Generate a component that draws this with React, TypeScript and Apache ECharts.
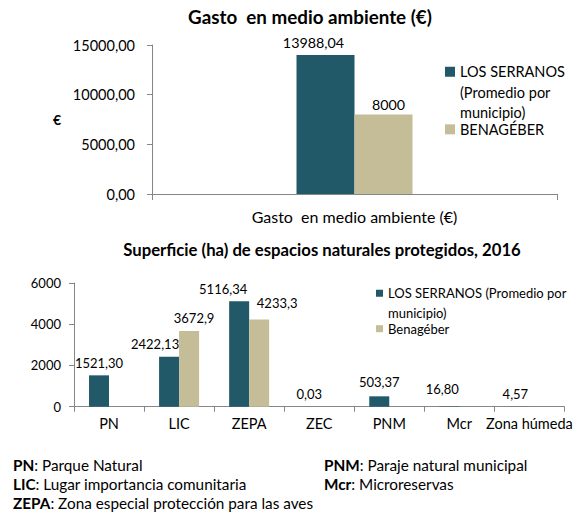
import React, { useEffect, useRef } from 'react';
import * as echarts from 'echarts';

// ---------- data ----------
const topCategories = ['Gasto  en medio ambiente (€)'];
const topSerranos = [13988.04];
const topBenageber = [8000];

const protCategories = ['PN', 'LIC', 'ZEPA', 'ZEC', 'PNM', 'Mcr', 'Zona húmeda'];
const protSerranos = [1521.3, 2422.13, 5116.34, 0.03, 503.37, 16.8, 4.57];
const protBenageber: (number | null)[] = [null, 3672.9, 4233.3, null, null, null, null];

const topYMax = 15000;
const topYInterval = 5000;
const protYMax = 6000;
const protYInterval = 2000;

const SERRANOS = 'LOS SERRANOS (Promedio por municipio)';
const BENA_TOP = 'BENAGÉBER';
const BENA_BOT = 'Benagéber';

const footLeft = [
  ['PN', ': Parque Natural'],
  ['LIC', ': Lugar importancia comunitaria'],
  ['ZEPA', ': Zona especial protección para las aves'],
];
const footRight = [
  ['PNM', ': Paraje natural municipal'],
  ['Mcr', ': Microreservas'],
];

// ---------- style ----------
const FONT = 'Lato, "Noto Sans", sans-serif';
const DARK = '#215968';
const TAN = '#C4BD97';
const AXIS = '#868686';
const TXT = '#000000';

// manual label shifts (as in the original chart)
const topSerranosShift = [[-12, 0]];
const topBenageberShift = [[5, 2.5]];
const protSerranosShift = [[0, 0], [-14, 0], [-16, 0], [0, 0], [0, -1.5], [-7, -4.5], [-4, 0]];
const protBenageberShift = [[0, 0], [5, 0], [18, -3.5], [0, 0], [0, 0], [0, 0], [0, 0]];

const fmt2 = (v: number) => v.toFixed(2).replace('.', ',');
const fmtRaw = (v: number) => String(v).replace('.', ',');

function items(vals: (number | null)[], shifts: number[][]) {
  return vals.map((v, i) => ({
    value: v === null ? '-' : v,
    label: { offset: shifts[i] },
  }));
}

// legend icon: a square at the top of a tall box, so that it sits on the first text line
const topIcon = (w: number, h: number) => `path://M0,0H${w}V${w}H0Z M0,${h - 0.01}H0.01V${h}H0Z`;

function buildOption(): any {
  const labelBase = { show: true, position: 'top', distance: 6, color: TXT, fontFamily: FONT };
  const footGraphics: any[] = [];
  const footRows = [465, 484, 503];
  const FS = 15.3;
  const pushFoot = (arr: string[][], x: number) =>
    arr.forEach(([b, n], i) =>
      footGraphics.push({
        type: 'text',
        x,
        y: footRows[i],
        style: {
          text: `{b|${b}}{n|${n}}`,
          verticalAlign: 'middle',
          rich: {
            b: { fontWeight: 'bold', fontSize: FS, fontFamily: FONT, fill: TXT },
            n: { fontSize: FS, fontFamily: FONT, fill: TXT },
          },
        },
      })
    );
  pushFoot(footLeft, 13);
  pushFoot(footRight, 324);

  return {
    animation: false,
    backgroundColor: '#ffffff',
    grid: [
      { left: 152, top: 45, width: 405, height: 149 },
      { left: 74, top: 283, width: 500.5, height: 123.7 },
    ],
    xAxis: [
      {
        gridIndex: 0,
        type: 'category',
        data: topCategories,
        axisLine: { lineStyle: { color: AXIS } },
        axisTick: { show: true, alignWithLabel: false, length: 6, lineStyle: { color: AXIS } },
        axisLabel: { color: TXT, fontFamily: FONT, fontSize: 16, margin: 14 },
      },
      {
        gridIndex: 1,
        type: 'category',
        data: protCategories,
        axisLine: { lineStyle: { color: AXIS } },
        axisTick: { show: true, alignWithLabel: false, interval: 0, length: 5, lineStyle: { color: AXIS } },
        axisLabel: { color: TXT, fontFamily: FONT, fontSize: 14.5, margin: 9, interval: 0 },
      },
    ],
    yAxis: [
      {
        gridIndex: 0,
        type: 'value',
        min: 0,
        max: topYMax,
        interval: topYInterval,
        axisLine: { show: true, lineStyle: { color: AXIS } },
        axisTick: { show: true, length: 5, lineStyle: { color: AXIS } },
        splitLine: { show: false },
        axisLabel: { color: TXT, fontFamily: FONT, fontSize: 14.5, margin: 17, formatter: (v: number) => fmt2(v) },
        name: '€',
        nameLocation: 'middle',
        nameRotate: 0,
        nameGap: 91,
        nameTextStyle: { color: TXT, fontFamily: FONT, fontSize: 14, fontWeight: 'bold' },
      },
      {
        gridIndex: 1,
        type: 'value',
        min: 0,
        max: protYMax,
        interval: protYInterval,
        axisLine: { show: true, lineStyle: { color: AXIS } },
        axisTick: { show: true, length: 5, lineStyle: { color: AXIS } },
        splitLine: { show: false },
        axisLabel: { color: TXT, fontFamily: FONT, fontSize: 13, margin: 13, formatter: (v: number) => String(v) },
      },
    ],
    legend: [
      {
        data: [SERRANOS],
        left: 445,
        top: 61.45,
        padding: 0,
        itemWidth: 10,
        itemHeight: 51,
        icon: topIcon(10, 51),
        selectedMode: false,
        formatter: () => 'LOS SERRANOS\n(Promedio por\nmunicipio)',
        textStyle: { color: TXT, fontFamily: FONT, fontSize: 14.5, lineHeight: 20.5 },
      },
      {
        data: [BENA_TOP],
        left: 445,
        top: 120.8,
        padding: 0,
        itemWidth: 10,
        itemHeight: 10,
        icon: 'rect',
        selectedMode: false,
        textStyle: { color: TXT, fontFamily: FONT, fontSize: 14.5, lineHeight: 17 },
      },
      {
        data: [SERRANOS],
        left: 376,
        top: 283.3,
        padding: 0,
        itemWidth: 7,
        itemHeight: 27,
        icon: topIcon(7, 27),
        selectedMode: false,
        formatter: () => 'LOS SERRANOS (Promedio por\nmunicipio)',
        textStyle: { color: TXT, fontFamily: FONT, fontSize: 13, lineHeight: 20 },
      },
      {
        data: [BENA_BOT],
        left: 376,
        top: 321.2,
        padding: 0,
        itemWidth: 7,
        itemHeight: 7,
        icon: 'rect',
        selectedMode: false,
        textStyle: { color: TXT, fontFamily: FONT, fontSize: 13, lineHeight: 15 },
      },
    ],
    series: [
      {
        type: 'bar',
        name: SERRANOS,
        xAxisIndex: 0,
        yAxisIndex: 0,
        data: items(topSerranos, topSerranosShift),
        barWidth: 58,
        barGap: '0%',
        itemStyle: { color: DARK },
        label: { ...labelBase, fontSize: 14.3, formatter: (p: any) => fmt2(p.value) },
      },
      {
        type: 'bar',
        name: BENA_TOP,
        xAxisIndex: 0,
        yAxisIndex: 0,
        data: items(topBenageber, topBenageberShift),
        barWidth: 58,
        barGap: '0%',
        itemStyle: { color: TAN },
        label: { ...labelBase, fontSize: 14.3, formatter: (p: any) => fmtRaw(p.value) },
      },
      {
        type: 'bar',
        name: SERRANOS,
        xAxisIndex: 1,
        yAxisIndex: 1,
        data: items(protSerranos, protSerranosShift),
        barWidth: 20,
        barGap: '0%',
        itemStyle: { color: DARK },
        label: { ...labelBase, fontSize: 13, formatter: (p: any) => fmt2(p.value) },
      },
      {
        type: 'bar',
        name: BENA_BOT,
        xAxisIndex: 1,
        yAxisIndex: 1,
        data: items(protBenageber, protBenageberShift),
        barWidth: 20,
        barGap: '0%',
        itemStyle: { color: TAN },
        label: { ...labelBase, fontSize: 13, formatter: (p: any) => fmtRaw(p.value) },
      },
    ],
    graphic: [
      {
        type: 'text',
        x: 310,
        y: 16,
        style: {
          text: 'Gasto  en medio ambiente (€)',
          fontFamily: FONT,
          fontSize: 18.8,
          fontWeight: 'bold',
          fill: TXT,
          align: 'center',
          verticalAlign: 'middle',
        },
      },
      {
        type: 'text',
        x: 322,
        y: 250,
        style: {
          text: 'Superficie (ha) de espacios naturales protegidos, 2016',
          fontFamily: FONT,
          fontSize: 16.7,
          fontWeight: 'bold',
          fill: TXT,
          align: 'center',
          verticalAlign: 'middle',
        },
      },
      ...footGraphics,
    ],
  };
}

export default function App() {
  const ref = useRef<HTMLDivElement>(null);
  useEffect(() => {
    if (!ref.current) return;
    const chart = echarts.init(ref.current, null, { renderer: 'svg' });
    chart.setOption(buildOption());
    return () => chart.dispose();
  }, []);
  return (
    <div
      ref={ref}
      style={{ position: 'absolute', left: 0, top: 0, width: 575, height: 512, background: '#fff' }}
    />
  );
}
